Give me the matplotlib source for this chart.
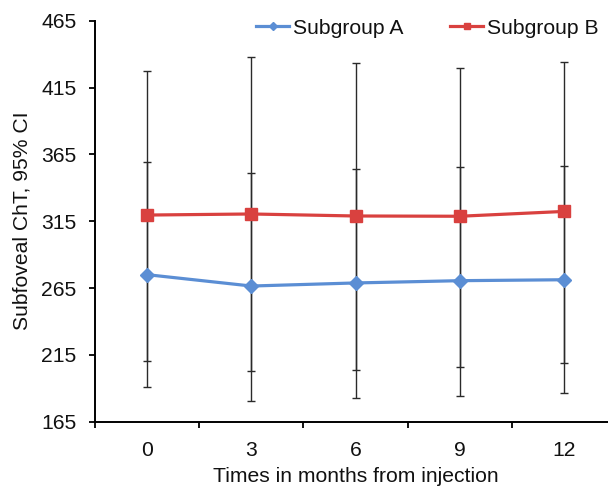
import matplotlib
matplotlib.use("Agg")
import matplotlib.pyplot as plt
import numpy as np

months = ["0", "3", "6", "9", "12"]
a_mean = [275.0, 266.5, 268.8, 270.5, 271.2]
a_low = [191.2, 180.7, 182.7, 184.5, 186.5]
a_high = [359.0, 351.0, 353.8, 355.8, 356.3]
b_mean = [319.6, 320.4, 318.9, 318.7, 322.3]
b_low = [210.6, 202.6, 203.4, 206.1, 208.9]
b_high = [427.1, 438.0, 433.3, 429.8, 434.3]
yticks = [165, 215, 265, 315, 365, 415, 465]

plt.rcParams['font.family'] = ['Liberation Sans', 'DejaVu Sans']
FS = 15.2
TXT = '#111111'

W, H = 608, 491
fig = plt.figure(figsize=(W / 100, H / 100), dpi=100)
ax = fig.add_axes([95 / W, (H - 421.7) / H, 521 / W, 401 / H])

x = np.arange(len(months))
blue = '#5B8ED4'
red = '#D9413F'
ecol = '#2a2a2a'

a_err = [np.array(a_mean) - np.array(a_low), np.array(a_high) - np.array(a_mean)]
b_err = [np.array(b_mean) - np.array(b_low), np.array(b_high) - np.array(b_mean)]
ax.errorbar(x, a_mean, yerr=a_err, fmt='none', ecolor=ecol, elinewidth=1.0,
            capsize=3.2, capthick=1.0, zorder=2)
ax.errorbar(x, b_mean, yerr=b_err, fmt='none', ecolor=ecol, elinewidth=1.0,
            capsize=3.2, capthick=1.0, zorder=2)

ax.plot(x, a_mean, color=blue, lw=2.3, marker='D', ms=7, mec=blue, mfc=blue,
        label='Subgroup A', zorder=3)
ax.plot(x, b_mean, color=red, lw=2.3, marker='s', ms=8, mec=red, mfc=red,
        label='Subgroup B', zorder=3)

ax.set_xlim(-0.5, len(months) - 0.5)
ax.set_ylim(165, 465)
ax.set_yticks(yticks)
ax.set_yticklabels([str(v) for v in yticks], fontsize=FS, color=TXT)
ax.set_xticks(x)
ax.set_xticklabels(months, fontsize=FS, color=TXT)
ax.set_xticks(np.arange(-0.5, len(months), 1.0), minor=True)
ax.tick_params(axis='x', which='major', length=0, pad=14)
ax.tick_params(axis='x', which='minor', length=4.5, width=1.3, direction='out')
ax.tick_params(axis='y', which='major', length=4.5, width=1.3, direction='out', pad=9)

for s in ['top', 'right']:
    ax.spines[s].set_visible(False)
for s in ['left', 'bottom']:
    ax.spines[s].set_linewidth(1.4)
    ax.spines[s].set_color('black')

ax.set_xlabel('Times in months from injection', fontsize=FS, labelpad=5, color=TXT)
ax.set_ylabel('Subfoveal ChT, 95% CI', fontsize=FS, labelpad=7, color=TXT)

leg = ax.legend(ncol=2, frameon=False, fontsize=FS, handlelength=1.55,
                handletextpad=0.2, columnspacing=2.2, markerscale=0.6,
                loc='center', bbox_to_anchor=((253 + 602) / 2 / W, 1 - 28 / H),
                bbox_transform=fig.transFigure, borderpad=0, borderaxespad=0)
for t in leg.get_texts():
    t.set_color(TXT)

fig.savefig('out.png', dpi=100)
